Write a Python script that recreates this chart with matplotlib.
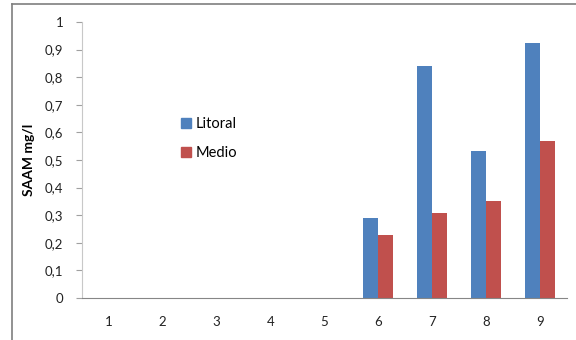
import matplotlib
matplotlib.use("Agg")
import matplotlib.pyplot as plt
from matplotlib.lines import Line2D
from matplotlib.patches import Patch
import numpy as np

plt.rcParams['font.family'] = ['Lato', 'DejaVu Sans']

categories = ['1', '2', '3', '4', '5', '6', '7', '8', '9']
litoral = [0, 0, 0, 0, 0, 0.29, 0.84, 0.533, 0.925]
medio = [0, 0, 0, 0, 0, 0.228, 0.309, 0.351, 0.569]
yticks = [0, 0.1, 0.2, 0.3, 0.4, 0.5, 0.6, 0.7, 0.8, 0.9, 1.0]
ytick_labels = ['0', '0,1', '0,2', '0,3', '0,4', '0,5', '0,6', '0,7', '0,8', '0,9', '1']

blue = '#4F81BD'
red = '#C0504D'
axis_grey = '#868686'

W, H = 576, 340
fig = plt.figure(figsize=(W / 100, H / 100), dpi=100)

# plot area in pixel coordinates
x0, x1 = 81.5, 567
y0, y1 = 298, 22
ax = fig.add_axes([x0 / W, 1 - y0 / H, (x1 - x0) / W, (y0 - y1) / H])

x = np.arange(len(categories))
bw = 0.28
ax.bar(x - bw / 2, litoral, bw, color=blue, label='Litoral')
ax.bar(x + bw / 2, medio, bw, color=red, label='Medio')

ax.set_xlim(-0.5, len(categories) - 0.5)
ax.set_ylim(0, 1)
ax.set_xticks(x)
ax.set_xticklabels(categories)
ax.set_yticks(yticks)
ax.set_yticklabels(ytick_labels)

for s in ['top', 'right']:
    ax.spines[s].set_visible(False)
ax.spines['left'].set_color('#C8C8C8')
ax.spines['bottom'].set_color(axis_grey)
ax.tick_params(axis='x', length=0, pad=13, labelsize=9.5, colors='#222222')
ax.tick_params(axis='y', length=4, width=0.8, color='#A0A0A0', pad=9,
               labelsize=9.5, colors='#222222')

ax.set_ylabel('SAAM mg/l', fontsize=10, fontweight='bold')
ax.yaxis.set_label_coords((35 - x0) / (x1 - x0), 0.5)

handles = [Patch(color=blue), Patch(color=red)]
leg = fig.legend(handles, ['Litoral', 'Medio'], loc='upper left',
                 bbox_to_anchor=(168 / W, 1 - 104 / H), frameon=False,
                 fontsize=10.5, handlelength=0.7, handleheight=0.7,
                 handletextpad=0.3, labelspacing=1.05)

# outer chart frame (left and top edges)
fig.add_artist(Line2D([12 / W, 12 / W], [0, 1 - 4 / H], color='#7F7F7F', lw=1.2))
fig.add_artist(Line2D([12 / W, 1], [1 - 4 / H, 1 - 4 / H], color='#7F7F7F', lw=1.2))

fig.savefig('out.png', dpi=100)
